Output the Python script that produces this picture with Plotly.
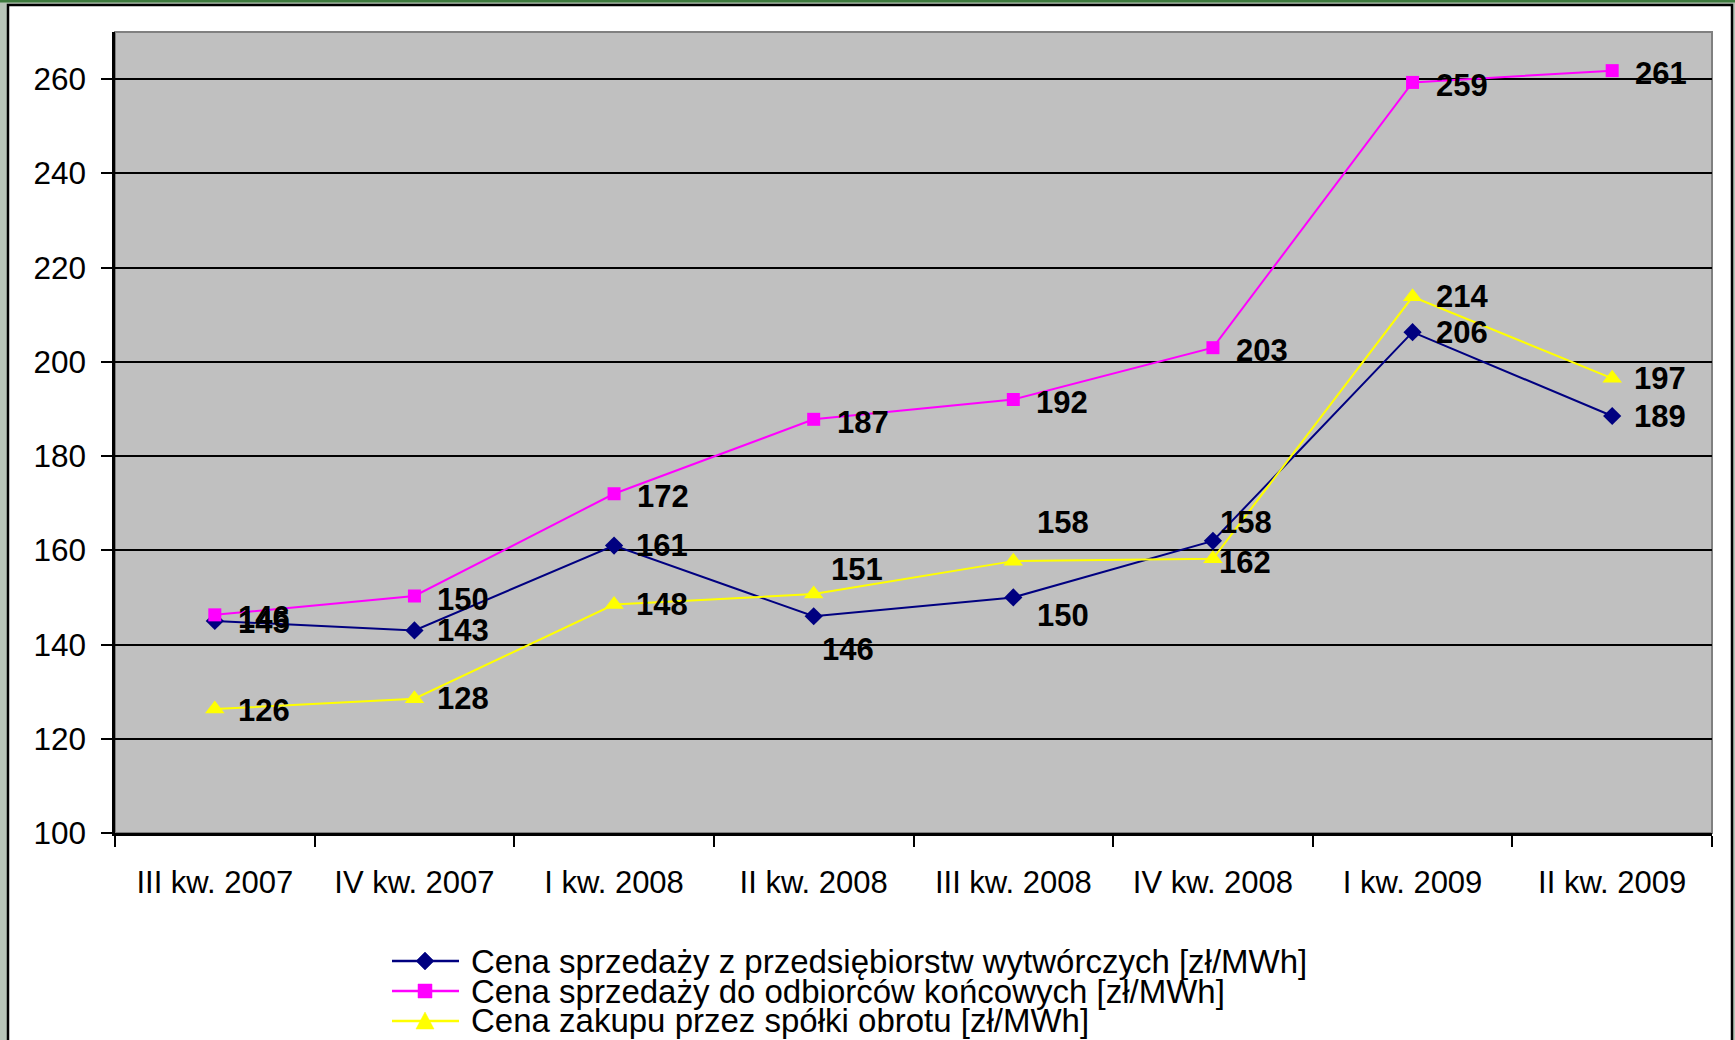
import plotly.graph_objects as go

# ---------------- data ----------------
categories = ["III kw. 2007", "IV kw. 2007", "I kw. 2008", "II kw. 2008",
              "III kw. 2008", "IV kw. 2008", "I kw. 2009", "II kw. 2009"]

name_gen = "Cena sprzedaży z przedsiębiorstw wytwórczych [zł/MWh]"
name_end = "Cena sprzedaży do odbiorców końcowych [zł/MWh]"
name_buy = "Cena zakupu przez spółki obrotu [zł/MWh]"

gen_values = [145, 143, 161, 146, 150, 162, 206.3, 188.5]
end_values = [146.3, 150.3, 172, 187.8, 192, 203, 259.3, 261.8]
buy_values = [126.3, 128.5, 148.5, 150.7, 157.7, 158.2, 213.8, 196.5]

gen_labels = ["145", "143", "161", "146", "150", "158", "206", "189"]
end_labels = ["146", "150", "172", "187", "192", "203", "259", "261"]
buy_labels = ["126", "128", "148", "151", "158", "162", "214", "197"]

y_ticks = [100, 120, 140, 160, 180, 200, 220, 240, 260]

# ---------------- styles / layout helpers ----------------
W, H = 1735, 1040
L, R, T, B = 115, 1712, 32, 833          # plot area in pixels


def px(x):
    return (x - L) / (R - L)


def py(y):
    return (B - y) / (B - T)


FONT = "Liberation Sans, Arial, sans-serif"
C_GEN, C_END, C_BUY = "#000080", "#FF00FF", "#FFFF00"

# label offsets (pixels) per series point: (xshift, yshift)
gen_off = [(49, -2), (49, 0), (48, 0), (34, -33), (50, -18), (33, 18), (49, 0), (48, 0)]
end_off = [(49, -3)] * 8
buy_off = [(49, -1), (49, 0), (48, 0), (43, 25), (50, 39), (32, -4), (49, 0), (48, 0)]

fig = go.Figure()
series = [
    (name_gen, gen_values, C_GEN, "diamond", 14),
    (name_end, end_values, C_END, "square", 13),
    (name_buy, buy_values, C_BUY, "triangle-up", 17),
]
for name, vals, col, sym, size in series:
    fig.add_trace(go.Scatter(
        x=categories, y=vals, name=name, mode="lines+markers",
        line=dict(color=col, width=2),
        marker=dict(symbol=sym, size=size, color=col, line=dict(width=0)),
        showlegend=False, cliponaxis=False,
    ))

annotations = []
for vals, labels, offs in [(gen_values, gen_labels, gen_off),
                           (end_values, end_labels, end_off),
                           (buy_values, buy_labels, buy_off)]:
    for c, v, t, (dx, dy) in zip(categories, vals, labels, offs):
        annotations.append(dict(
            x=c, y=v, xref="x", yref="y", text=t, showarrow=False,
            xshift=dx, yshift=dy, xanchor="center", yanchor="middle",
            font=dict(family=FONT, size=31, color="black", weight="bold"),
        ))

# legend (drawn as text + sample shapes, tight spacing like the original)
legend_rows = [961, 991, 1021]
legend_names = [name_gen, name_end, name_buy]
legend_cols = [C_GEN, C_END, C_BUY]
for y, nm in zip(legend_rows, legend_names):
    annotations.append(dict(
        x=px(469), y=py(y), xref="paper", yref="paper", text=nm,
        showarrow=False, xanchor="left", yanchor="middle",
        font=dict(family=FONT, size=33, color="black"),
    ))

shapes = [
    # outer frame strip
    dict(type="rect", xref="paper", yref="paper", x0=px(-5), x1=px(W + 5),
         y0=py(2.5), y1=py(-5), fillcolor="#3d7a3d", line=dict(width=0), layer="below"),
    # white chart area with black border
    dict(type="rect", xref="paper", yref="paper", x0=px(8), x1=px(1732),
         y0=py(H + 20), y1=py(5), fillcolor="white",
         line=dict(color="black", width=2.5), layer="below"),
    # grey plot area
    dict(type="rect", xref="paper", yref="paper", x0=0, x1=1, y0=0, y1=1,
         fillcolor="#C0C0C0", line=dict(color="#808080", width=2), layer="below"),
]

for y, col, sym in zip(legend_rows, legend_cols, ["diamond", "square", "triangle"]):
    shapes.append(dict(type="line", xref="paper", yref="paper",
                       x0=px(392), x1=px(459), y0=py(y), y1=py(y),
                       line=dict(color=col, width=2.5)))
    cx = 425
    if sym == "diamond":
        path = "M {} {} L {} {} L {} {} L {} {} Z".format(
            px(cx - 9), py(y), px(cx), py(y - 9), px(cx + 9), py(y), px(cx), py(y + 9))
    elif sym == "square":
        path = "M {} {} L {} {} L {} {} L {} {} Z".format(
            px(cx - 7), py(y - 7), px(cx + 7), py(y - 7), px(cx + 7), py(y + 7), px(cx - 7), py(y + 7))
    else:
        path = "M {} {} L {} {} L {} {} Z".format(
            px(cx - 9), py(y + 8), px(cx + 9), py(y + 8), px(cx), py(y - 9))
    shapes.append(dict(type="path", xref="paper", yref="paper", path=path,
                       fillcolor=col, line=dict(color=col, width=0.5)))

fig.update_layout(
    width=W, height=H,
    margin=dict(l=L, r=W - R, t=T, b=H - B, pad=0),
    paper_bgcolor="#B7C4B7",
    plot_bgcolor="#C0C0C0",
    font=dict(family=FONT, color="black"),
    shapes=shapes,
    annotations=annotations,
    showlegend=False,
    xaxis=dict(
        type="category", categoryorder="array", categoryarray=categories,
        range=[-0.5, 7.5], tickson="boundaries",
        ticks="outside", ticklen=11, tickwidth=2, tickcolor="black",
        showline=True, linecolor="black", linewidth=2.5,
        showgrid=False, zeroline=False,
        tickfont=dict(family=FONT, size=31, color="black"),
        ticklabelstandoff=20,
    ),
    yaxis=dict(
        range=[100, 270], tickmode="array", tickvals=y_ticks,
        ticktext=[str(v) for v in y_ticks],
        ticks="outside", ticklen=11, tickwidth=2, tickcolor="black",
        showline=True, linecolor="black", linewidth=2.5,
        showgrid=True, gridcolor="black", gridwidth=2,
        zeroline=False,
        tickfont=dict(family=FONT, size=31.5, color="black"),
        ticklabelstandoff=9,
    ),
)

fig.write_html("out.html",
               config={"displayModeBar": False},
               post_script="document.body.style.margin='0';document.body.style.overflow='hidden';")
